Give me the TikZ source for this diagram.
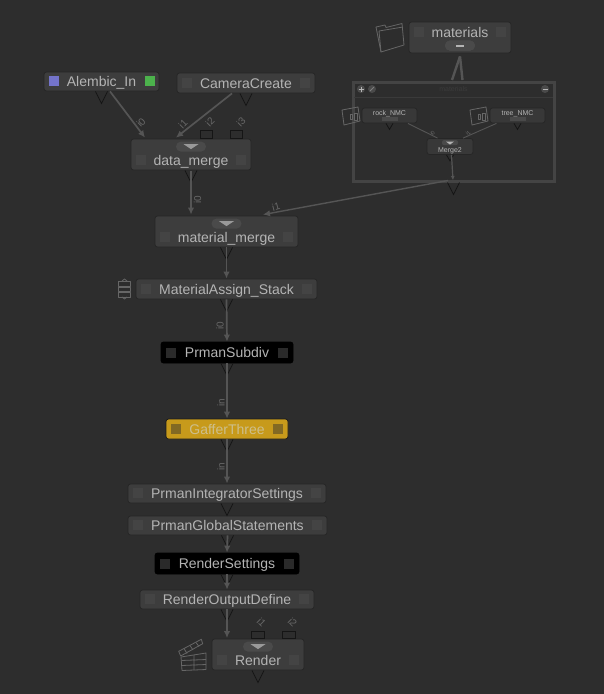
\documentclass[tikz,border=0pt]{standalone}
\usepackage{fontspec}
\setmainfont{Liberation Sans}
\usetikzlibrary{arrows.meta}
\definecolor{bgc}{HTML}{2D2D2D}
\definecolor{nodec}{HTML}{3D3D3D}
\definecolor{edgec}{HTML}{262626}
\definecolor{textc}{HTML}{B4B4B4}
\definecolor{linkc}{HTML}{555555}
\definecolor{labelc}{HTML}{686868}
\definecolor{flagc}{HTML}{444444}
\definecolor{darkflagc}{HTML}{2A2A2A}
\definecolor{pillc}{HTML}{4A4A4A}
\definecolor{triwire}{HTML}{151515}
\definecolor{gafferc}{HTML}{C79A1B}
\definecolor{gafftext}{HTML}{CDBF8C}
\tikzset{
  knode/.style={draw=edgec,fill=nodec,rounded corners=2.5pt,inner sep=0pt,line width=.8pt,text=textc,
    font=\fontsize{14}{15}\selectfont,text height=13pt,text depth=3pt},
  tworow/.style={text height=25pt,text depth=3pt},
  blacknode/.style={knode,draw=black,fill=black},
  gaffernode/.style={knode,draw=black!40!bgc,fill=gafferc,text=gafftext},
  smallnode/.style={knode,font=\fontsize{7}{8}\selectfont,fill=nodec!92!black},
  linkline/.style={draw=linkc,line width=1.7pt,-{Latex[length=7pt,width=6.5pt]}},
  thinlink/.style={draw=linkc,line width=.9pt},
  wirelabel/.style={text=labelc,inner sep=0pt,font=\fontsize{10}{11}\selectfont},
  outtri/.style={draw=triwire,line width=.8pt},
  stub/.style={draw=triwire,line width=.8pt},
  iconline/.style={draw=linkc!90!white,line width=.8pt,line join=round},
}
% flags at both ends of a node
\newcommand{\flags}[2]{
	\fill[#2] ([xshift=5pt,yshift=5pt]#1.south west) rectangle +(10,-10);
	\fill[#2] ([xshift=-15pt,yshift=5pt]#1.south east) rectangle +(10,-10);
}
% the pill with its small arrow
\newcommand{\pill}[1]{
	\fill[pillc,rounded corners=5pt] ([xshift=-15pt,yshift=-3pt]#1.north) rectangle +(30,10);
	\fill[black!15!textc] ([xshift=-7.5pt,yshift=-5.5pt]#1.north) -- +(15,0) -- +(7.5,5) -- cycle;
}
\begin{document}
\begin{tikzpicture}[x=1pt,y=-1pt]
	\fill[bgc] (0,0) rectangle (604,694);

	% backdrop with its three small nodes
	\node[draw=linkc!110!white,fill=bgc,line width=3pt,minimum width=201pt,minimum height=99pt,inner sep=0pt] (backdrop) at (453.5,131.5) {};
	\draw[edgec!70!labelc,line width=.8pt] (354,97) -- (553,97);
	\node[wirelabel,text=labelc!130!white,font=\fontsize{7}{8}\selectfont] (backtitle) at (453.5,89) {materials};
	\fill[pillc] (361,89) circle (4) (372,89) circle (4) (545,89) circle (4);
	\draw[textc,line width=.8pt] (358.5,89) -- (363.5,89) (361,86.5) -- (361,91.5) (542.5,89) -- (547.5,89);
	\draw[textc!70!black,line width=.8pt] (370,91) -- (374,87);

	\node[smallnode,minimum width=55pt,minimum height=15pt,text height=5pt,text depth=5pt] (rock) at (389.5,115.5) {rock\_NMC};
	\node[smallnode,minimum width=55pt,minimum height=15pt,text height=5pt,text depth=5pt] (tree) at (517.5,115.5) {tree\_NMC};
	\node[smallnode,minimum width=46pt,minimum height=15pt,text height=14pt,text depth=2pt] (merge2) at (450,146.5) {Merge2};
	\foreach \n in {rock,tree}
	  \fill[pillc] ([xshift=-8pt,yshift=2pt]\n.south) rectangle +(16,-4);
	\fill[pillc,rounded corners=2pt] ([xshift=-8pt,yshift=-2pt]merge2.north) rectangle +(16,5);
	\fill[textc] ([xshift=-4pt,yshift=-3.5pt]merge2.north) -- +(8,0) -- +(4,3) -- cycle;
	\foreach \n in {rock,tree,merge2}
	  \draw[outtri] ([xshift=-3.5pt]\n.south) -- +(3.5,6) -- +(7,0);
	\draw[thinlink] ([xshift=18.5pt]rock.south) -- ([xshift=-12.5pt]merge2.north);
	\draw[thinlink] ([xshift=-21pt]tree.south) -- ([xshift=13pt]merge2.north);
	\draw[thinlink,line width=1.2pt,-{Latex[length=4pt,width=4pt]}] ([xshift=1.5pt]merge2.south) -- ([xshift=-.5pt,yshift=2.5pt]backdrop.south);
	\node[wirelabel,rotate=45,font=\fontsize{5.5}{6}\selectfont] (lrock) at (432.5,133) {i0};
	\node[wirelabel,rotate=45,font=\fontsize{5.5}{6}\selectfont] (ltree) at (468,133) {i1};

	% icons beside the small nodes
	\foreach \ox in {0,128}{
	  \draw[iconline] (342+\ox,110) -- (358+\ox,107) -- (360+\ox,121) -- (344+\ox,125) -- cycle;
	  \draw[iconline] (350+\ox,114) rectangle (352+\ox,119) (354+\ox,113) rectangle (357+\ox,120);
	}

	% top nodes
	\node[knode,minimum width=102pt,minimum height=31pt,text height=8pt,text depth=8pt] (materials) at (460,37.5) {materials};
	\node[knode,minimum width=115pt,minimum height=19pt] (alembic) at (101.5,81.5) {Alembic\_In};
	\node[knode,minimum width=138pt,minimum height=20pt] (camera) at (246,83) {CameraCreate};
	\node[knode,tworow,minimum width=120pt,minimum height=31pt] (datamerge) at (191,154.5) {data\_merge};
	\node[knode,tworow,minimum width=143pt,minimum height=31pt] (matmerge) at (226.5,231.5) {material\_merge};
	\node[knode,minimum width=181pt,minimum height=20pt] (matassign) at (226.5,289) {MaterialAssign\_Stack};
	\node[blacknode,minimum width=132pt,minimum height=21pt] (subdiv) at (227,352.5) {PrmanSubdiv};
	\node[gaffernode,minimum width=122pt,minimum height=20pt] (gaffer) at (227,429) {GafferThree};
	\node[knode,minimum width=198pt,minimum height=19pt] (integrator) at (227,493.5) {PrmanIntegratorSettings};
	\node[knode,minimum width=199pt,minimum height=19pt] (globalst) at (227.5,525.5) {PrmanGlobalStatements};
	\node[blacknode,minimum width=144pt,minimum height=21pt] (rendersett) at (227,563.5) {RenderSettings};
	\node[knode,minimum width=174pt,minimum height=19pt] (outputdef) at (227,599.5) {RenderOutputDefine};
	\node[knode,tworow,minimum width=92pt,minimum height=31pt] (render) at (258,654.5) {Render};

	\foreach \n in {camera,datamerge,matmerge,matassign,integrator,globalst,outputdef,render}
	  \flags{\n}{flagc}
	\flags{subdiv}{darkflagc}
	\flags{rendersett}{darkflagc}
	\flags{gaffer}{gafferc!55!bgc}
	\fill[blue!45!gray!75!white] ([xshift=5pt,yshift=5pt]alembic.south west) rectangle +(10,-10);
	\fill[green!40!gray] ([xshift=-14pt,yshift=5pt]alembic.south east) rectangle +(10,-10);
	\fill[flagc] ([xshift=-15pt,yshift=-5pt]materials.north east) rectangle +(10,10);
	\fill[flagc] ([xshift=5pt,yshift=-5pt]materials.north west) rectangle +(10,10);
	\foreach \n in {datamerge,matmerge,render}
	  \pill{\n}
	\fill[pillc,rounded corners=5pt] ([xshift=-15pt,yshift=-19pt]materials.north) rectangle +(30,10);
	\fill[textc] ([xshift=-4pt,yshift=-23.5pt]materials.north) rectangle +(8,1.5);

	% output triangles
	\foreach \n in {alembic,camera,datamerge,matmerge,matassign,subdiv,gaffer,integrator,globalst,rendersett,outputdef,render,backdrop}
	  \draw[outtri] ([xshift=-6pt]\n.south) -- +(6,12) -- +(12,0);

	% input stubs
	\draw[stub] ([xshift=9pt]datamerge.north) rectangle +(12,-8);
	\draw[stub] ([xshift=39.5pt]datamerge.north) rectangle +(12,-8);
	\draw[stub] ([xshift=-7pt]render.north) rectangle +(13,-7);
	\draw[stub] ([xshift=24pt]render.north) rectangle +(13,-7);

	% connectors
	\draw[linkline] ([xshift=8.5pt]alembic.south) -- ([xshift=-46pt,yshift=1pt]datamerge.north);
	\draw[linkline] ([xshift=-14pt]camera.south) -- ([xshift=-15pt,yshift=1pt]datamerge.north);
	\draw[linkline] ([yshift=-1pt]datamerge.south) -- ([yshift=1pt]matmerge.north -| datamerge.south);
	\draw[linkline,line width=1.4pt] ([xshift=-5.5pt,yshift=2pt]backdrop.south) -- ([xshift=36.5pt,yshift=1pt]matmerge.north);
	\draw[linkline] (matmerge.south) -- (matassign.north);
	\draw[linkline] (matassign.south) -- (subdiv.north);
	\draw[linkline] (subdiv.south) -- (gaffer.north);
	\draw[linkline] (gaffer.south) -- (integrator.north);
	\draw[linkline] (globalst.south) -- (rendersett.north);
	\draw[linkline] (rendersett.south) -- (outputdef.north);
	\coordinate (renderin) at (227,638);
	\draw[linkline] (outputdef.south) -- (renderin);

	% link from the group node into its backdrop
	\coordinate (backl) at (452,80);
	\coordinate (backr) at (462.5,80);
	\draw[linkc,line width=2.4pt] ([yshift=-3pt]materials.south) -- (backl);
	\draw[linkc,line width=2.4pt] ([yshift=-3pt]materials.south) -- (backr);

	% port labels
	\node[wirelabel,rotate=45] (li0) at (141,122.5) {i0};
	\node[wirelabel,rotate=45] (li1) at (183,124) {i1};
	\node[wirelabel,rotate=45] (li2) at (210,122) {i2};
	\node[wirelabel,rotate=45] (li3) at (241,122) {i3};
	\node[wirelabel,rotate=90] (lo0) at (197.5,199.5) {i0};
	\node[wirelabel,rotate=15] (lm1) at (276,207) {i1};
	\node[wirelabel,rotate=90] (la0) at (220,326) {i0};
	\node[wirelabel,rotate=90] (lin1) at (221,403) {in};
	\node[wirelabel,rotate=90] (lin2) at (221,467) {in};
	\node[wirelabel,rotate=-45] (lr1) at (261.5,622.5) {i1};
	\node[wirelabel,rotate=-45] (lr2) at (292.5,622.5) {i2};

	% folder
	\draw[iconline] (381,52) -- (376,27) -- (385,25) -- (386,27.5) -- (402,23.5) -- (404,45) -- cycle;
	\draw[iconline] (379,31) -- (403,27) (379,31) -- (381,52);
	% stack
	\draw[iconline] (118.5,281) rectangle (130.5,286.5) (118.5,287) rectangle (130.5,291.5) (118.5,292) rectangle (130.5,297);
	\draw[iconline] (122,281) -- (124.5,279) -- (127,281) (122,297) -- (124.5,299) -- (127,297);
	% clapper
	\draw[iconline] (178.7,651.3) -- (201.3,639.3) -- (202.7,643.7) -- (180.7,656) -- cycle;
	\draw[iconline] (184,648.5) -- (187,653.5) (190,645.5) -- (193,650) (196,642.5) -- (199,646.5);
	\draw[iconline] (181,657) -- (206,653) -- (206,669.5) -- (182,670.5) -- cycle;
	\draw[iconline] (181.5,660.5) -- (206,659.5) (181.7,665.5) -- (206,664.5) (194,655) -- (194,670);
\end{tikzpicture}
\end{document}
